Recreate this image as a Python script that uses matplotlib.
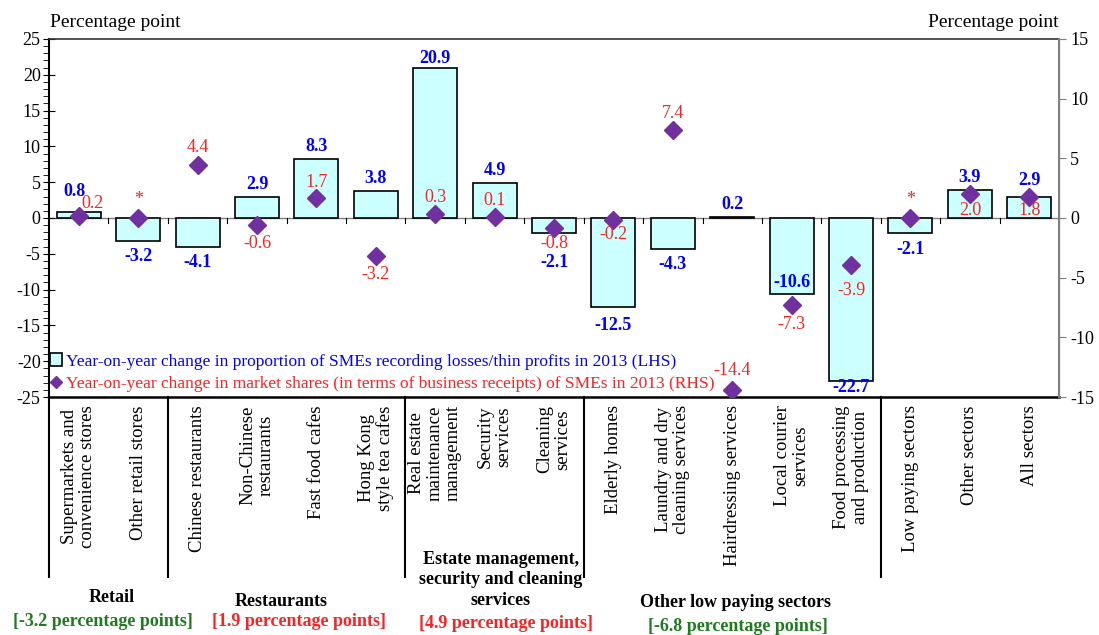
import matplotlib
matplotlib.use("Agg")
import matplotlib.pyplot as plt
from matplotlib.patches import Patch
from matplotlib.lines import Line2D
from matplotlib.ticker import MultipleLocator
import numpy as np

plt.rcParams['font.family'] = ['Liberation Serif', 'DejaVu Serif']
plt.rcParams['axes.unicode_minus'] = False

# Data
categories = [
    "Supermarkets and\nconvenience stores", "Other retail stores",
    "Chinese restaurants", "Non-Chinese\nrestaurants", "Fast food cafes",
    "Hong Kong\nstyle tea cafes", "Real estate\nmaintenance\nmanagement",
    "Security\nservices", "Cleaning\nservices", "Elderly homes",
    "Laundry and dry\ncleaning services", "Hairdressing services",
    "Local courier\nservices", "Food processing\nand production",
    "Low paying sectors", "Other sectors", "All sectors",
]
loss_change = [0.8, -3.2, -4.1, 2.9, 8.3, 3.8, 20.9, 4.9, -2.1, -12.5,
               -4.3, 0.2, -10.6, -22.7, -2.1, 3.9, 2.9]
share_change = [0.2, 0.0, 4.4, -0.6, 1.7, -3.2, 0.3, 0.1, -0.8, -0.2,
                7.4, -14.4, -7.3, -3.9, 0.0, 2.0, 1.8]
share_labels = ["0.2", "*", "4.4", "-0.6", "1.7", "-3.2", "0.3", "0.1", "-0.8",
                "-0.2", "7.4", "-14.4", "-7.3", "-3.9", "*", "2.0", "1.8"]

groups = ["Retail", "Restaurants",
          "Estate management,\nsecurity and cleaning\nservices",
          "Other low paying sectors"]
group_notes = ["[-3.2 percentage points]", "[1.9 percentage points]",
               "[4.9 percentage points]", "[-6.8 percentage points]"]

BLUE = '#0000FF'
RED = '#FF2020'
GREEN = '#1E7B1E'
PURPLE = '#7030A0'
CYAN = '#CCFFFF'

fig = plt.figure(figsize=(10.99, 6.35), dpi=100)
ax = fig.add_axes([0.0446, 0.3748, 0.9190, 0.5638])
ax2 = ax.twinx()

x = np.arange(len(categories))
ax.bar(x, loss_change, width=0.74, color=CYAN, edgecolor='black', linewidth=1.2, zorder=2)
ax.axhline(0, color='#808080', linewidth=1.0, zorder=1)
ax.set_xlim(-0.5, len(categories) - 0.5)
ax.set_ylim(-25, 25)
ax.yaxis.set_major_locator(MultipleLocator(5))
ax.yaxis.set_minor_locator(MultipleLocator(1))
ax.tick_params(axis='y', which='major', direction='inout', length=8, labelsize=13, pad=2)
ax.tick_params(axis='y', which='minor', direction='out', length=4)

# small ticks on the zero line between categories
for b in x[:-1] + 0.5:
    ax.plot([b, b], [0, -0.7], color='black', linewidth=0.8, zorder=1)

ax.set_xticks(x)
ax.set_xticklabels(categories, rotation=90, va='top', ha='center',
                   multialignment='center', fontsize=13.5, linespacing=1.1)
ax.tick_params(axis='x', length=0, pad=6)

ax2.plot(x, share_change, linestyle='none', marker='D', markersize=9,
         color=PURPLE, zorder=5)
ax2.set_ylim(-15, 15)
ax2.yaxis.set_major_locator(MultipleLocator(5))
ax2.tick_params(axis='y', direction='out', length=5, color='#808080', labelsize=13, pad=3)

ax.spines['left'].set_linewidth(1.5)
ax.spines['bottom'].set_linewidth(1.8)
ax.spines['top'].set_color('#333333')
ax.spines['top'].set_linewidth(1.2)
ax2.spines['right'].set_color('#808080')
ax2.spines['right'].set_linewidth(1.5)
ax2.spines['top'].set_visible(False)
ax2.spines['left'].set_visible(False)
ax2.spines['bottom'].set_visible(False)

# blue bar value labels (offsets in points)
bar_offsets = {0: 15, 6: 7, 8: -21, 12: 8, 13: -5, 9: -13, 14: -12, 16: 12}
for i, v in enumerate(loss_change):
    off = bar_offsets.get(i, 9 if v >= 0 else -11)
    ax.annotate(f"{v:.1f}", (x[i], v), xytext=(-3 if i == 0 else 0, off),
                textcoords='offset points', ha='center', va='center',
                color=BLUE, fontsize=13, fontweight='bold', zorder=6)

# red diamond value labels
share_offsets = {0: (10, 9), 1: (0, 13), 2: (0, 13), 3: (0, -13), 4: (0, 11),
                 5: (0, -13), 6: (0, 12), 7: (0, 12), 8: (0, -11.5), 9: (0, -10),
                 10: (0, 12), 11: (0, 14), 12: (0, -14), 13: (0, -19),
                 14: (0, 13), 15: (0, -12), 16: (0, -10)}
for i, v in enumerate(share_change):
    dx, dy = share_offsets[i]
    ax2.annotate(share_labels[i], (x[i], v), xytext=(dx, dy),
                 textcoords='offset points', ha='center', va='center',
                 color=RED, fontsize=13, zorder=6)

# axis titles
fig.text(0.0455, 0.965, "Percentage point", fontsize=14, ha='left', va='center')
fig.text(0.963, 0.965, "Percentage point", fontsize=14, ha='right', va='center')

# legend
handles = [Patch(facecolor=CYAN, edgecolor='black', linewidth=1.2),
           Line2D([], [], marker='D', linestyle='none', color=PURPLE, markersize=6)]
leg = ax.legend(handles, [
    "Year-on-year change in proportion of SMEs recording losses/thin profits in 2013 (LHS)",
    "Year-on-year change in market shares (in terms of business receipts) of SMEs in 2013 (RHS)"],
    loc='lower left', bbox_to_anchor=(-0.006, -0.005), frameon=False, fontsize=12.5,
    handlelength=0.7, handleheight=0.7, handletextpad=0.2, labelspacing=0.35,
    borderaxespad=0.3, borderpad=0.1)
for t, c in zip(leg.get_texts(), [BLUE, RED]):
    t.set_color(c)

# group dividers and group labels below the axis
trans = ax.get_xaxis_transform()
for b in [-0.5, 1.5, 5.5, 8.5, 13.5]:
    ax.plot([b, b], [0, -0.503], transform=trans, color='black',
            linewidth=1.5, clip_on=False)

group_x = [0.55, 3.4, 7.1, 11.05]
group_y = [-0.561, -0.570, -0.511, -0.573]
note_x = [0.4, 3.7, 7.2, 11.1]
note_y = [-0.628, -0.628, -0.634, -0.642]
note_colors = [GREEN, RED, RED, GREEN]
for g, note, gx, gy, nx, ny, c in zip(groups, group_notes, group_x, group_y,
                                      note_x, note_y, note_colors):
    ax.text(gx, gy, g, transform=trans, ha='center', va='center', fontsize=13,
            fontweight='bold', linespacing=1.3)
    ax.text(nx, ny, note, transform=trans, ha='center', va='center', fontsize=13,
            fontweight='bold', color=c)

fig.savefig("out.png", dpi=100)
